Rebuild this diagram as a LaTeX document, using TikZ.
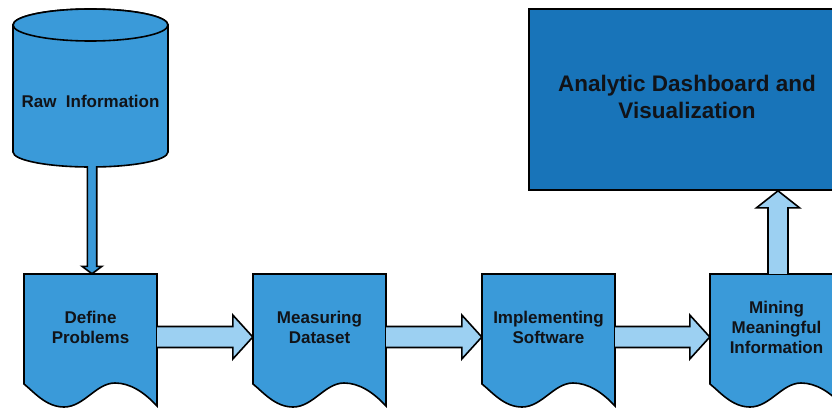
\documentclass[tikz,border=0pt]{standalone}
\usepackage{fontspec}
\setmainfont{Liberation Sans}
\usetikzlibrary{calc}

\definecolor{boxblue}{HTML}{3A9AD9}
\definecolor{deepblue}{HTML}{1874B9}
\definecolor{flowblue}{HTML}{9CD0F2}
\definecolor{ink}{HTML}{111318}

\tikzset{
  outline/.style={draw=black, line width=1.6pt, line join=miter},
  shapefill/.style={outline, fill=boxblue},
  flowfill/.style={outline, fill=flowblue},
  label/.style={inner sep=0pt, align=center, text=ink,
    font=\bfseries\fontsize{17}{20}\selectfont},
  docbox/.style={label, minimum width=133pt, minimum height=106pt},
  bigbox/.style={outline, fill=deepblue, inner sep=0pt, align=center, text=ink,
    minimum width=316pt, minimum height=181pt, text depth=6pt,
    font=\bfseries\fontsize{22.5}{27}\selectfont}
}

% document symbol with a wavy lower edge, centred on #1
\newcommand\docshape[1]{%
  \begin{scope}[shift={(#1)}]
    \filldraw[shapefill] (-66.5,-53) -- (66.5,-53) -- (66.5,79)
      .. controls (53.5,65) and (39.5,56) .. (24.5,56)
      .. controls (5.5,56) and (-6.5,80) .. (-26.5,80)
      .. controls (-44.5,80) and (-56.5,65) .. (-66.5,57) -- cycle;
  \end{scope}}

% block arrow running right from the east side of #1 to the west side of #2
\newcommand\rightflow[2]{%
  \path let \p1=(#1.east), \p2=(#2.west) in
    [flowfill] (\x1,\y1+0.5pt) -- (\x2-20pt,\y1+0.5pt) -- (\x2-20pt,\y1+12pt)
      -- (\x2,\y1-10pt) -- (\x2-20pt,\y1-32pt) -- (\x2-20pt,\y1-20.5pt)
      -- (\x1,\y1-20.5pt);}

\begin{document}
\begin{tikzpicture}[x=1pt, y=-1pt]
  \path[use as bounding box, clip] (0,0) rectangle (832,407);

  % raw data store
  \coordinate (rawc) at (90.5,101);
  \begin{scope}[shift={(rawc)}]
    \filldraw[shapefill] (-77.5,-76) -- (-77.5,51)
      arc[start angle=180, end angle=360, x radius=77.5pt, y radius=15pt]
      -- (77.5,-76)
      arc[start angle=0, end angle=180, x radius=77.5pt, y radius=16pt] -- cycle;
    \filldraw[shapefill] (0,-76) ellipse[x radius=77.5pt, y radius=16pt];
  \end{scope}
  \node[label] (raw) at (rawc) {Raw~~Information};
  \coordinate (rawbot) at ($(rawc)+(1.5,65)$);

  % process documents
  \coordinate (d1c) at (90.5,327);
  \coordinate (d2c) at (319.5,327);
  \coordinate (d3c) at (548.5,327);
  \coordinate (d4c) at (776.5,327);
  \docshape{d1c}
  \docshape{d2c}
  \docshape{d3c}
  \docshape{d4c}
  \node[docbox] (d1) at (d1c) {Define\\Problems};
  \node[docbox] (d2) at (d2c) {Measuring\\Dataset};
  \node[docbox] (d3) at (d3c) {Implementing\\Software};
  \node[docbox] (d4) at (d4c) {Mining\\Meaningful\\Information};

  % output
  \node[bigbox] (dashb) at (687,99.5) {Analytic Dashboard and\\Visualization};

  % flow arrows
  \path let \p1=(rawbot), \p2=(d1.north) in
    [shapefill] (\x1-4.7pt,\y1) -- (\x1-4.7pt,\y2+7.5pt) -- (\x1-10pt,\y2+7.5pt)
      -- (\x1,\y2) -- (\x1+10pt,\y2+7.5pt) -- (\x1+4.7pt,\y2+7.5pt) -- (\x1+4.7pt,\y1);
  \rightflow{d1}{d2}
  \rightflow{d2}{d3}
  \rightflow{d3}{d4}
  \path let \p1=($(d4.north)+(1.5,0)$), \p2=(dashb.south) in
    [flowfill] (\x1-10pt,\y1) -- (\x1-10pt,\y2-17pt) -- (\x1-21.5pt,\y2-17pt)
      -- (\x1,\y2) -- (\x1+21.5pt,\y2-17pt) -- (\x1+10pt,\y2-17pt) -- (\x1+10pt,\y1);
\end{tikzpicture}
\end{document}
